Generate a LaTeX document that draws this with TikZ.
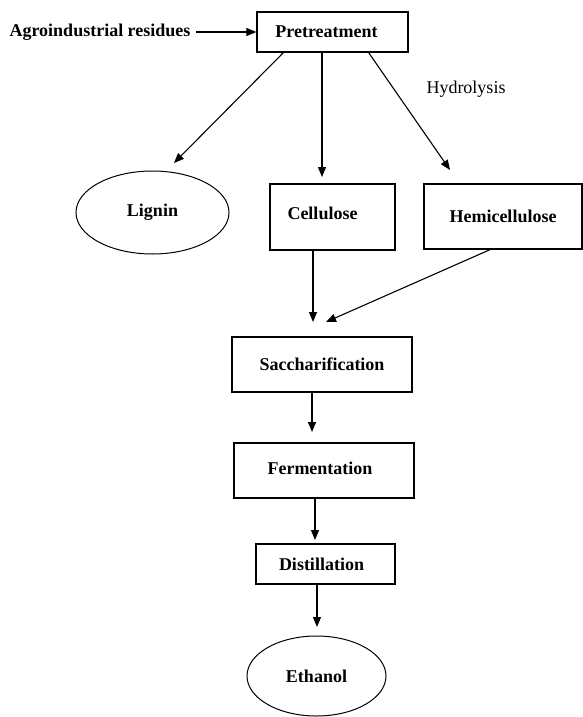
\documentclass[tikz,border=0pt]{standalone}
\usepackage{fontspec}
\setmainfont{Liberation Serif}
\usetikzlibrary{shapes.geometric}
\usetikzlibrary{arrows.meta}
\newcommand{\flowfont}{\fontsize{18}{21.5}\selectfont}
\tikzset{
    stepbox/.style = {rectangle, draw=black, line width=1.3pt, inner sep=0pt, font=\flowfont\bfseries},
    oval/.style = {ellipse, draw=black, line width=1pt, inner sep=0pt, font=\flowfont\bfseries},
    plain/.style = {inner sep=5pt, font=\flowfont\bfseries},
    note/.style = {inner sep=0pt, font=\flowfont},
    edgen/.style = {-{Triangle[length=10pt,width=8pt]}, line width=1.1pt},
}

\begin{document}
\begin{tikzpicture}[x=1pt,y=-1pt]
\useasboundingbox (0,0) rectangle (583,717);

  % nodes
  \node[plain] (agro) at (100,32) {Agroindustrial residues};
  \node[stepbox, minimum width=151pt, minimum height=40pt] (pre) at (332.5,32) {\hspace*{-12pt}Pretreatment};
  \node[note] (hydro) at (466,89) {Hydrolysis};
  \node[oval, minimum width=153pt, minimum height=83pt] (lignin) at (152.5,212.5) {\raisebox{5pt}{Lignin}};
  \node[stepbox, minimum width=125pt, minimum height=66pt] (cell) at (332.5,217) {\hspace*{-20pt}\raisebox{7pt}{Cellulose}};
  \node[stepbox, minimum width=158pt, minimum height=65pt] (hemi) at (503,216.5) {Hemicellulose};
  \node[stepbox, minimum width=180pt, minimum height=55pt] (sacch) at (322,364.5) {Saccharification};
  \node[stepbox, minimum width=180pt, minimum height=55pt] (ferm) at (324,470.5) {\hspace*{-8pt}\raisebox{4pt}{Fermentation}};
  \node[stepbox, minimum width=139pt, minimum height=40pt] (dist) at (325.5,564) {\hspace*{-8pt}Distillation};
  \node[oval, minimum width=139pt, minimum height=80pt] (eth) at (316.5,676) {Ethanol};

  % free arrow ends
  \coordinate (ligtip) at (174,163);
  \coordinate (celltip) at (322,177);
  \coordinate (hemitip) at (450,170);
  \coordinate (sactipa) at (313,322);
  \coordinate (sactipb) at (326,322);
  \coordinate (fermtip) at (312,432);
  \coordinate (disttip) at (315,540);
  \coordinate (ethtip) at (317,627);

  % connectors
  \draw[edgen] (agro.east) -- (pre.west);
  \draw[edgen] ([xshift=27pt]pre.south west) -- (ligtip);
  \draw[edgen] (pre.south -| celltip) -- (celltip);
  \draw[edgen] ([xshift=-40pt]pre.south east) -- (hemitip);
  \draw[edgen] (cell.south -| sactipa) -- (sactipa);
  \draw[edgen] ([xshift=-13pt]hemi.south) -- (sactipb);
  \draw[edgen] (sacch.south -| fermtip) -- (fermtip);
  \draw[edgen] (ferm.south -| disttip) -- (disttip);
  \draw[edgen] (dist.south -| ethtip) -- (ethtip);

\end{tikzpicture}
\end{document}
